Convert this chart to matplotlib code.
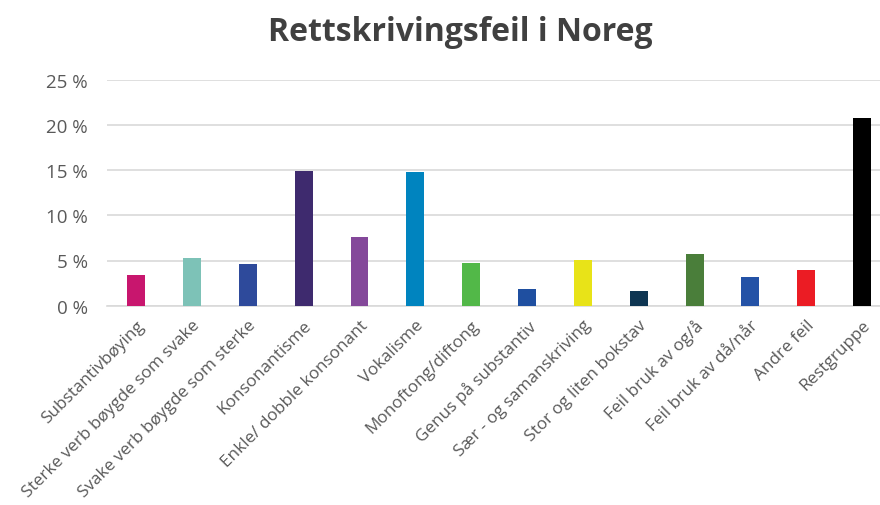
import numpy as np
import matplotlib.pyplot as plt
from matplotlib.ticker import FuncFormatter

# data
categories = [
    'Substantivbøying',
    'Sterke verb bøygde som svake',
    'Svake verb bøygde som sterke',
    'Konsonantisme',
    'Enkle/ dobble konsonant',
    'Vokalisme',
    'Monoftong/diftong',
    'Genus på substantiv',
    'Sær - og samanskriving',
    'Stor og liten bokstav',
    'Feil bruk av og/å',
    'Feil bruk av då/når',
    'Andre feil',
    'Restgruppe',
]
shares = [3.4, 5.3, 4.6, 14.9, 7.6, 14.8, 4.7, 1.9, 5.05, 1.6, 5.7, 3.2, 3.95, 20.8]
bar_colors = ['#C8166E', '#7DC2B7', '#2E4A9B', '#3E2A6E', '#84489A', '#0084BF',
              '#52B848', '#1F4FA0', '#E8E318', '#0E3552', '#4A7E3A', '#2452A6',
              '#EB1C24', '#000000']
yticks = [0, 5, 10, 15, 20, 25]

plt.rcParams['font.family'] = ['Open Sans', 'DejaVu Sans']

fig = plt.figure(figsize=(8.8, 5.06), dpi=100)
ax = fig.add_axes([107 / 880, 1 - 306.7 / 506, (880 - 107) / 880, (306.7 - 80.7) / 506])

x = np.arange(len(categories))
ax.bar(x, shares, width=0.32, color=bar_colors, zorder=3)

ax.set_ylim(0, 25)
ax.set_xlim(-0.52, 13.32)
ax.set_yticks(yticks)
ax.yaxis.set_major_formatter(FuncFormatter(lambda v, p: f'{v:.0f} %'))
ax.grid(True, axis='y', color='#D9D9D9', linewidth=1.2, zorder=0)
ax.set_xticks(x)
ax.set_xticklabels(categories, rotation=45, ha='right', va='top',
                   rotation_mode='anchor', fontsize=12.3, color='#595959')
ax.tick_params(axis='y', labelsize=13.5, labelcolor='#595959', length=0, pad=14)
ax.tick_params(axis='x', length=0, pad=8)
for s in ['top', 'right', 'left']:
    ax.spines[s].set_visible(False)
ax.spines['bottom'].set_color('#D9D9D9')
ax.spines['bottom'].set_linewidth(1.2)

fig.text(0.523, 0.935, 'Rettskrivingsfeil i Noreg', ha='center', va='center',
         fontsize=23, fontweight='bold', color='#404040')

fig.savefig('out.png', dpi=100)
